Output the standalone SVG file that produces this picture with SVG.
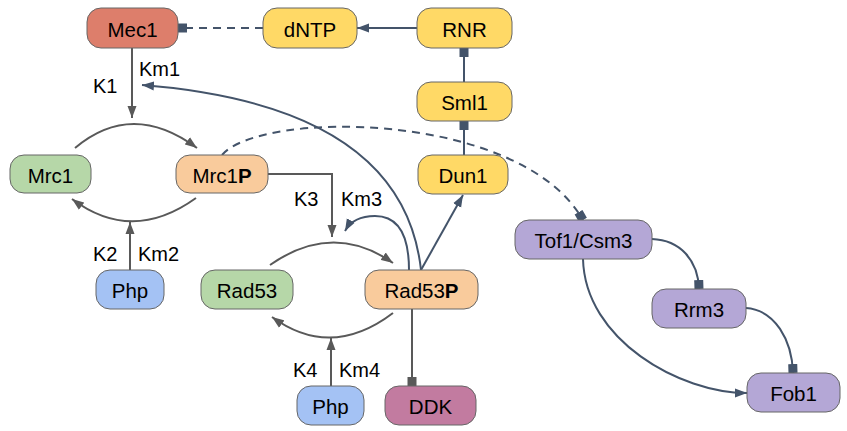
<svg xmlns="http://www.w3.org/2000/svg" width="847" height="431" viewBox="0 0 847 431">
<defs>
<style>
.n rect{stroke:#666;stroke-width:1}
.n text,.lbl{font-family:"Liberation Sans",Arial,sans-serif;font-size:20px;fill:#000}
.n text{text-anchor:middle;font-size:20.5px}
.g{fill:none;stroke:#595959;stroke-width:2}
.b{fill:none;stroke:#44546a;stroke-width:2}
.d{stroke-dasharray:8,6}
</style>
<marker id="ag" markerUnits="userSpaceOnUse" markerWidth="13" markerHeight="10" refX="12" refY="5" orient="auto" viewBox="0 0 13 10"><path d="M0,0.5 L12,5 L0,9.5 Z" fill="#595959"/></marker>
<marker id="ab" markerUnits="userSpaceOnUse" markerWidth="13" markerHeight="10" refX="12" refY="5" orient="auto" viewBox="0 0 13 10"><path d="M0,0.5 L12,5 L0,9.5 Z" fill="#44546a"/></marker>
<marker id="sb" markerUnits="userSpaceOnUse" markerWidth="9" markerHeight="10" refX="9" refY="5" orient="auto" viewBox="0 0 9 10"><rect x="0" y="0.5" width="9" height="9" fill="#44546a"/></marker>
<marker id="sg" markerUnits="userSpaceOnUse" markerWidth="9" markerHeight="10" refX="9" refY="5" orient="auto" viewBox="0 0 9 10"><rect x="0" y="0.5" width="9" height="9" fill="#595959"/></marker>
</defs>
<g id="connectors">
<path class="b" d="M417,28 L357,28" marker-end="url(#ab)"/>
<path class="b d" d="M263,28 L178,28" marker-end="url(#sb)"/>
<path class="b" d="M464,82 L464,48" marker-end="url(#sb)"/>
<path class="b" d="M464,155 L464,121" marker-end="url(#sb)"/>
<path class="g" d="M132,48 L132,118" marker-end="url(#ag)"/>
<path class="g" d="M75,148 Q132,100 197,148" marker-end="url(#ag)"/>
<path class="g" d="M196,198 Q132,244 72,199" marker-end="url(#ag)"/>
<path class="g" d="M130,270 L130,222" marker-end="url(#ag)"/>
<path class="g" d="M268,174 L332,174 L332,237" marker-end="url(#ag)"/>
<path class="g" d="M270,265 Q333,221 393,263" marker-end="url(#ag)"/>
<path class="g" d="M393,313 Q331,360 272,317" marker-end="url(#ag)"/>
<path class="g" d="M331,386 L331,338" marker-end="url(#ag)"/>
<path class="g" d="M412,309 L412,386" marker-end="url(#sg)"/>
<path class="b" d="M409,270 C409,235 398,216 375,216 C360,216 350,222 345,231" marker-end="url(#ab)"/>
<path class="b" d="M421,270 C410,170 330,100 142,85" marker-end="url(#ab)"/>
<path class="b" d="M421,270 L463,195" marker-end="url(#ab)"/>
<path class="b d" d="M222,155 C260,110 520,110 583,220" marker-end="url(#sb)"/>
<path class="b" d="M583,259 C585,340 680,393 747,393" marker-end="url(#ab)"/>
<path class="b" d="M652,239 C680,240 698,260 699,289" marker-end="url(#sb)"/>
<path class="b" d="M746,308 C775,310 792,340 793,373" marker-end="url(#sb)"/>
<text class="lbl" x="93" y="93">K1</text>
<text class="lbl" x="139" y="76">Km1</text>
<text class="lbl" x="93" y="261">K2</text>
<text class="lbl" x="138" y="261">Km2</text>
<text class="lbl" x="294" y="206">K3</text>
<text class="lbl" x="341" y="206">Km3</text>
<text class="lbl" x="293" y="377">K4</text>
<text class="lbl" x="339" y="377">Km4</text>
</g>
<g id="Mec1" class="n"><rect x="87" y="8" width="91" height="40" rx="14" fill="#dd7e6b"/><text x="132.5" y="36.5">Mec1</text></g>
<g id="dNTP" class="n"><rect x="263" y="8" width="94" height="40" rx="14" fill="#ffd966"/><text x="310" y="36.5">dNTP</text></g>
<g id="RNR" class="n"><rect x="417" y="8" width="95" height="40" rx="14" fill="#ffd966"/><text x="464.5" y="36.5">RNR</text></g>
<g id="Sml1" class="n"><rect x="417" y="82" width="95" height="39" rx="14" fill="#ffd966"/><text x="464.5" y="110">Sml1</text></g>
<g id="Dun1" class="n"><rect x="418" y="155" width="90" height="39" rx="14" fill="#ffd966"/><text x="463" y="183">Dun1</text></g>
<g id="Mrc1" class="n"><rect x="10" y="155" width="81" height="38" rx="14" fill="#b6d7a8"/><text x="50.5" y="182.5">Mrc1</text></g>
<g id="Mrc1P" class="n"><rect x="176" y="155" width="92" height="38" rx="14" fill="#f9cb9c"/><text x="222" y="182.5">Mrc1<tspan font-weight="bold">P</tspan></text></g>
<g id="Php1" class="n"><rect x="96" y="270" width="68" height="39" rx="14" fill="#a4c2f4"/><text x="130" y="298">Php</text></g>
<g id="Rad53" class="n"><rect x="201" y="270" width="92" height="39" rx="14" fill="#b6d7a8"/><text x="247" y="298">Rad53</text></g>
<g id="Rad53P" class="n"><rect x="365" y="270" width="113" height="39" rx="14" fill="#f9cb9c"/><text x="421.5" y="298">Rad53<tspan font-weight="bold">P</tspan></text></g>
<g id="Tof1Csm3" class="n"><rect x="515" y="220" width="137" height="39" rx="14" fill="#b4a7d6"/><text x="583.5" y="248">Tof1/Csm3</text></g>
<g id="Rrm3" class="n"><rect x="652" y="289" width="94" height="39" rx="14" fill="#b4a7d6"/><text x="699" y="317">Rrm3</text></g>
<g id="Fob1" class="n"><rect x="747" y="373" width="93" height="39" rx="14" fill="#b4a7d6"/><text x="793.5" y="401">Fob1</text></g>
<g id="Php2" class="n"><rect x="297" y="386" width="67" height="39" rx="14" fill="#a4c2f4"/><text x="330.5" y="414">Php</text></g>
<g id="DDK" class="n"><rect x="385" y="386" width="91" height="39" rx="14" fill="#c27ba0"/><text x="430.5" y="414">DDK</text></g>
</svg>
